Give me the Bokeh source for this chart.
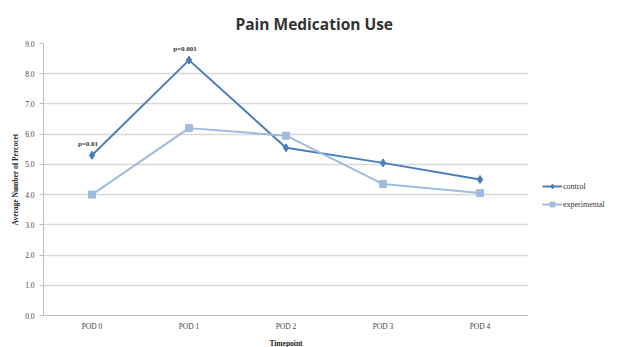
from bokeh.plotting import figure
from bokeh.models import Legend, LegendItem, Range1d, FixedTicker, PrintfTickFormatter, ColumnDataSource
from bokeh.core.properties import value
from bokeh.embed import file_html
from bokeh.resources import INLINE

timepoints = ["POD 0", "POD 1", "POD 2", "POD 3", "POD 4"]
control = [5.3, 8.45, 5.55, 5.05, 4.5]
experimental = [4.0, 6.2, 5.95, 4.35, 4.05]
pvalue_points = ["POD 0", "POD 1"]
pvalue_values = [5.3, 8.45]
pvalue_labels = ["p=0.01", "p=0.001"]
y_ticks = [0, 1, 2, 3, 4, 5, 6, 7, 8, 9]

c_col = "#4a7ebb"
e_col = "#a0bbdd"
serif = "Liberation Serif"

p = figure(frame_width=485, frame_height=272, x_range=timepoints, y_range=Range1d(0, 9),
           output_backend="svg", toolbar_location=None,
           min_border_left=43, min_border_right=92, min_border_top=43, min_border_bottom=32)
p.title.text = "Pain Medication Use"
p.title.align = "left"
p.title.offset = 192
p.title.standoff = 18
p.title.text_font = "Open Sans"
p.title.text_font_style = "bold"
p.title.text_font_size = "15.5px"
p.title.text_color = "#333333"
p.outline_line_color = None
p.background_fill_color = "white"

p.xgrid.grid_line_color = None
p.ygrid.grid_line_color = "#d9d9d9"
p.ygrid.grid_line_width = 1.3

p.yaxis.ticker = FixedTicker(ticks=y_ticks)
p.yaxis.formatter = PrintfTickFormatter(format="%.1f")
for ax in (p.xaxis, p.yaxis):
    ax.axis_line_color = "#bfbfbf"
    ax.major_tick_line_color = "#bfbfbf"
    ax.minor_tick_line_color = None
    ax.major_label_text_font = serif
    ax.major_label_text_font_size = "7.5px"
    ax.major_label_text_color = "#444444"
    ax.axis_label_text_font = serif
    ax.axis_label_text_font_style = "bold"
    ax.axis_label_text_font_size = "7.5px"
    ax.axis_label_text_color = "#222222"
p.xaxis.major_tick_line_color = None
p.xaxis.major_tick_out = 0
p.xaxis.major_tick_in = 0
p.yaxis.major_tick_out = 4
p.yaxis.major_tick_in = 0
p.xaxis.axis_label = "Timepoint"
p.yaxis.axis_label = "Average Number of Percocet"
p.xaxis.axis_label_standoff = 5
p.yaxis.axis_label_standoff = 2
p.xaxis.major_label_standoff = 6

l1 = p.line(timepoints, control, line_color=c_col, line_width=2)
m1 = p.scatter(timepoints, control, marker="diamond", size=8, fill_color=c_col, line_color=c_col)
l2 = p.line(timepoints, experimental, line_color=e_col, line_width=2)
m2 = p.scatter(timepoints, experimental, marker="square", size=7, fill_color=e_col, line_color=e_col)

src = ColumnDataSource(dict(x=pvalue_points, y=pvalue_values, t=pvalue_labels))
p.text(x="x", y="y", text="t", source=src, text_font=value(serif), text_font_size="7px",
       text_font_style="bold", text_color="#333333", text_align="center",
       text_baseline="bottom", y_offset=-7, x_offset=-4)

legend = Legend(items=[LegendItem(label="control", renderers=[l1, m1]),
                       LegendItem(label="experimental", renderers=[l2, m2])],
                location=(14, 105), border_line_color=None, background_fill_alpha=0,
                label_text_font=serif, label_text_font_size="8px", label_text_color="#333333",
                glyph_width=20, glyph_height=12, label_standoff=1, spacing=6, padding=4, margin=0)
p.add_layout(legend, "right")

open("out.html", "w").write(file_html(p, INLINE))
